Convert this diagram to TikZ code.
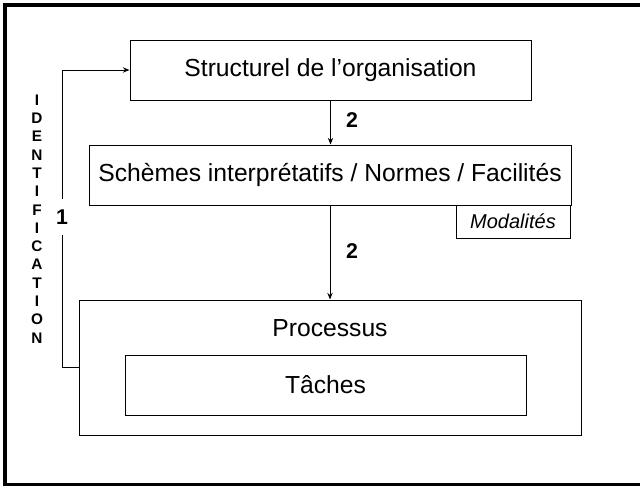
\documentclass[tikz,border=0pt]{standalone}
\usepackage{fontspec}
\setmainfont{Liberation Sans}
\usetikzlibrary{arrows.meta}
\begin{document}
\begin{tikzpicture}[x=0.75pt, y=-0.75pt,
  box/.style={draw, line width=0.75pt, minimum width=300.75pt, minimum height=45pt, inner sep=0pt, font=\fontsize{18.5}{22}\selectfont},
  num/.style={font=\fontsize{16}{18}\selectfont\bfseries},
  letter/.style={font=\fontsize{11.5}{13}\selectfont\bfseries, inner sep=0pt},
  arr/.style={line width=0.75pt, -{Stealth[length=5pt, width=4pt]}}]
\useasboundingbox (0,0) rectangle (640,486);
\draw [line width=3pt] (5,5) rectangle (650,485);
\node [box] (struct) at (330.5,70) {Structurel de l'organisation};
\node [box, minimum width=361.5pt] (schemes) at (330,175) {Schèmes interprétatifs / Normes / Facilités};
\node [box, minimum width=85.5pt, minimum height=24.75pt, font=\fontsize{15}{18}\selectfont\itshape] (modal) at (513,221.5) {Modalités};
\node [box, minimum width=376.5pt, minimum height=101.25pt] (proc) at (330,367.5) {};
\node [font=\fontsize{18.5}{22}\selectfont] (proclabel) at (330,328) {Processus};
\node [box] (taches) at (325.5,385) {Tâches};
\draw [arr] (struct.south) -- (struct.south |- schemes.north);
\draw [arr] (schemes.south) -- (schemes.south |- proc.north);
\node [num] (two) at (352,120) {2};
\node [num] (twob) at (352,251) {2};
\draw [arr] (proc.west) -- ++(-16,0) |- (struct.west);
\node [num, fill=white, inner ysep=8pt, inner xsep=1pt] (one) at (62,217) {1};
\foreach \c [count=\i from 0] in {I,D,E,N,T,I,F,I,C,A,T,I,O,N}
  \node [letter] (id\i) at (37, 100+18.3*\i) {\c};
\end{tikzpicture}
\end{document}
